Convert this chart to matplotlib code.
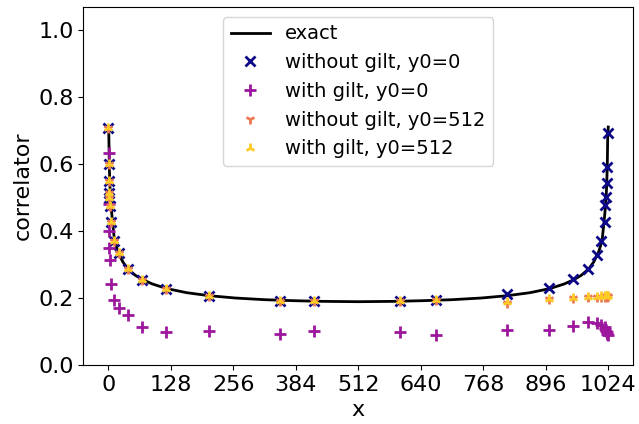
import numpy as np
import matplotlib
matplotlib.use("Agg")
import matplotlib.pyplot as plt

# sample positions (shared by all four measured series)
x_pts = [0, 0.5, 1, 1.5, 2, 3, 5, 12, 21, 40, 70, 119,
         206, 351, 422, 598, 671, 816,
         903, 952, 982, 1000, 1010, 1017, 1018, 1019, 1021, 1022, 1023]

nogilt_y0 = [0.708, 0.600, 0.549, 0.513, 0.497, 0.473, 0.428, 0.371, 0.333, 0.286, 0.254, 0.227,
             0.207, 0.192, 0.191, 0.192, 0.194, 0.211,
             0.229, 0.256, 0.287, 0.328, 0.370, 0.428, 0.478, 0.500, 0.542, 0.592, 0.692]

gilt_y0 = [np.nan, 0.634, 0.480, 0.401, 0.348, 0.313, 0.242, 0.194, 0.171, 0.149, 0.114, 0.098,
           0.101, 0.093, 0.102, 0.100, 0.090, 0.105,
           0.105, 0.117, 0.128, 0.124, 0.120, 0.113, 0.108, 0.103, 0.098, 0.094, 0.090]

nogilt_y512 = [0.708, 0.600, 0.549, 0.513, 0.497, 0.473, 0.428, 0.371, 0.333, 0.286, 0.254, 0.227,
               0.207, 0.192, 0.191, 0.192, 0.194, 0.185,
               0.196, 0.199, 0.202, 0.204, 0.204, 0.204, 0.205, 0.205, 0.204, 0.205, 0.205]

gilt_y512 = [0.708, 0.600, 0.549, 0.513, 0.497, 0.473, 0.428, 0.371, 0.333, 0.286, 0.254, 0.227,
             0.207, 0.192, 0.191, 0.192, 0.194, 0.189,
             0.196, 0.199, 0.202, 0.204, 0.205, 0.205, 0.206, 0.206, 0.205, 0.206, 0.206]

# exact curve
x_exact = [0, 1, 2, 3, 4, 6, 8, 12, 16, 20, 30, 40, 55, 70, 90, 120, 160, 206, 260, 320, 380, 440, 512,
           584, 644, 704, 764, 818, 864, 904, 934, 954, 969, 984, 994, 1004, 1008, 1012, 1016,
           1018, 1020, 1021, 1022, 1023, 1024]
y_exact = [0.710, 0.690, 0.595, 0.545, 0.512, 0.468, 0.437, 0.380, 0.355, 0.336, 0.307, 0.287, 0.268,
           0.255, 0.242, 0.228, 0.216, 0.207, 0.200, 0.195, 0.192, 0.190, 0.189,
           0.190, 0.192, 0.195, 0.200, 0.207, 0.216, 0.228, 0.242, 0.255, 0.268, 0.287, 0.307,
           0.336, 0.355, 0.380, 0.437, 0.468, 0.512, 0.545, 0.595, 0.690, 0.710]

colors = ["#0d0887", "#9c179e", "#ed7953", "#fdca26"]

fig = plt.figure(figsize=(6.39, 4.24), dpi=100)
ax = fig.add_axes([0.1304, 0.139, 0.8606, 0.8445])

ax.plot(x_exact, y_exact, color="black", lw=2, label="exact")
ax.plot(x_pts, nogilt_y0, ls="none", marker="x", ms=7, mew=2, color=colors[0],
        label="without gilt, y0=0")
ax.plot(x_pts, gilt_y0, ls="none", marker="+", ms=8, mew=2, color=colors[1],
        label="with gilt, y0=0")
ax.plot(x_pts, nogilt_y512, ls="none", marker="1", ms=7, mew=2, color=colors[2],
        label="without gilt, y0=512")
ax.plot(x_pts, gilt_y512, ls="none", marker="2", ms=7, mew=2, color=colors[3],
        label="with gilt, y0=512")

ax.set_xticks(np.arange(0, 1025, 128))
ax.set_yticks([0.0, 0.2, 0.4, 0.6, 0.8, 1.0])
ax.set_xlim(-51.2, 1075.2)
ax.set_ylim(0, 1.068)
ax.tick_params(labelsize=16)
ax.set_xlabel("x", fontsize=16)
ax.set_ylabel("correlator", fontsize=16)
ax.legend(loc="upper center", fontsize=14)

fig.savefig("out.png", dpi=100)
